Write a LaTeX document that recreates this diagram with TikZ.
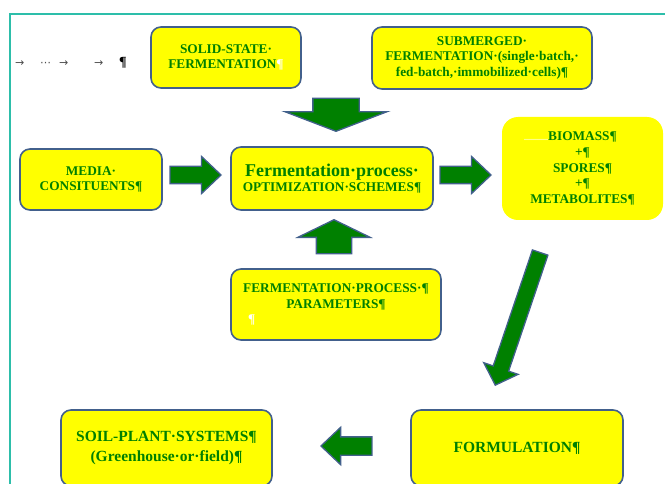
\documentclass[tikz,border=0pt]{standalone}
\usepackage{fontspec}
\setmainfont{Liberation Serif}
\newfontfamily\marksfont{DejaVu Sans}
\usetikzlibrary{shapes.arrows,positioning}
\definecolor{boxyellow}{RGB}{255,255,0}
\definecolor{txtgreen}{RGB}{0,128,0}
\definecolor{arrgreen}{RGB}{0,128,0}
\definecolor{rimblue}{RGB}{66,96,140}
\definecolor{frameteal}{RGB}{45,190,170}

\begin{document}
\begin{tikzpicture}[x=1pt,y=-1pt,
  box/.style={draw=rimblue,line width=1.6pt,rounded corners=10pt,fill=boxyellow,text=txtgreen,align=center,inner sep=2pt,font=\fontsize{13.3}{15.5}\selectfont\bfseries},
  bigbox/.style={box,font=\fontsize{15.5}{20}\selectfont\bfseries},
  blockarr/.style={single arrow,draw=rimblue,fill=arrgreen,line width=1.3pt,inner xsep=0pt,anchor=tip}]
\useasboundingbox (0,0) rectangle (665,484);
\draw[frameteal,line width=1.5pt] (10,490) -- (10,14) -- (670,14);
\node[anchor=west,inner sep=0pt,text=gray!60!black,font=\marksfont\fontsize{11}{12}\selectfont] (marks) at (15,63)
  {\rlap{→}\hspace{25pt}\rlap{⋯}\hspace{19pt}\rlap{→}\hspace{35pt}\rlap{→}\hspace{25pt}{\color{black}\rmfamily\bfseries\fontsize{14}{14}\selectfont ¶}};
% boxes
\node[box,minimum width=150pt,minimum height=61pt] (solid) at (226,57.5) {SOLID-STATE·\\FERMENTATION{\color{white}¶}};
\node[box,minimum width=220pt,minimum height=62pt] (subm) at (482,58) {SUBMERGED·\\FERMENTATION·(single·batch,·\\fed-batch,·immobilized·cells)¶};
\node[box,minimum width=142pt,minimum height=61pt] (media) at (91,179.5) {MEDIA·\\CONSITUENTS¶};
\node[box,minimum width=202pt,minimum height=63pt] (proc) at (332,178.5) {{\fontsize{18}{20}\selectfont Fermentation·process·}\\OPTIMIZATION·SCHEMES¶};
\node[box,draw=none,rounded corners=16pt,minimum width=161pt,minimum height=103pt,font=\fontsize{13.3}{15.75}\selectfont\bfseries] (bio) at (582.5,168.5)
  {\llap{\color{white}\fontsize{8}{8}\selectfont ............}BIOMASS¶\\+¶\\SPORES¶\\+¶\\METABOLITES¶};
\node[box,minimum width=210pt,minimum height=71pt] (param) at (336,304.5) {FERMENTATION·PROCESS·¶\\PARAMETERS¶\\\makebox[176pt][l]{\color{white}¶}};
\node[bigbox,minimum width=211pt,minimum height=76pt] (soil) at (166.5,448) {SOIL-PLANT·SYSTEMS¶\\(Greenhouse·or·field)¶};
\node[bigbox,minimum width=212pt,minimum height=76pt] (form) at (517,448) {FORMULATION¶};
% block arrows
\node[blockarr,minimum height=33pt,inner ysep=22.5pt,single arrow head extend=28pt,single arrow tip angle=138,rotate=-90] (adown) at (336,132) {};
\node[blockarr,minimum height=51pt,inner ysep=8pt,single arrow head extend=10pt,single arrow tip angle=87] (ain) at (222,175) {};
\node[blockarr,minimum height=51pt,inner ysep=8pt,single arrow head extend=10pt,single arrow tip angle=87] (aout) at (492,175) {};
\node[blockarr,minimum height=34pt,inner ysep=17pt,single arrow head extend=18.5pt,single arrow tip angle=128,rotate=90] (aup) at (334,219) {};
\node[blockarr,minimum height=140pt,inner ysep=7.5pt,single arrow head extend=10pt,single arrow tip angle=92,rotate=-108.7] (adiag) at (495,386) {};
\node[blockarr,minimum height=51pt,inner ysep=8.5pt,single arrow head extend=9.5pt,single arrow tip angle=87,rotate=180] (aleft) at (320,446) {};
\end{tikzpicture}
\end{document}
